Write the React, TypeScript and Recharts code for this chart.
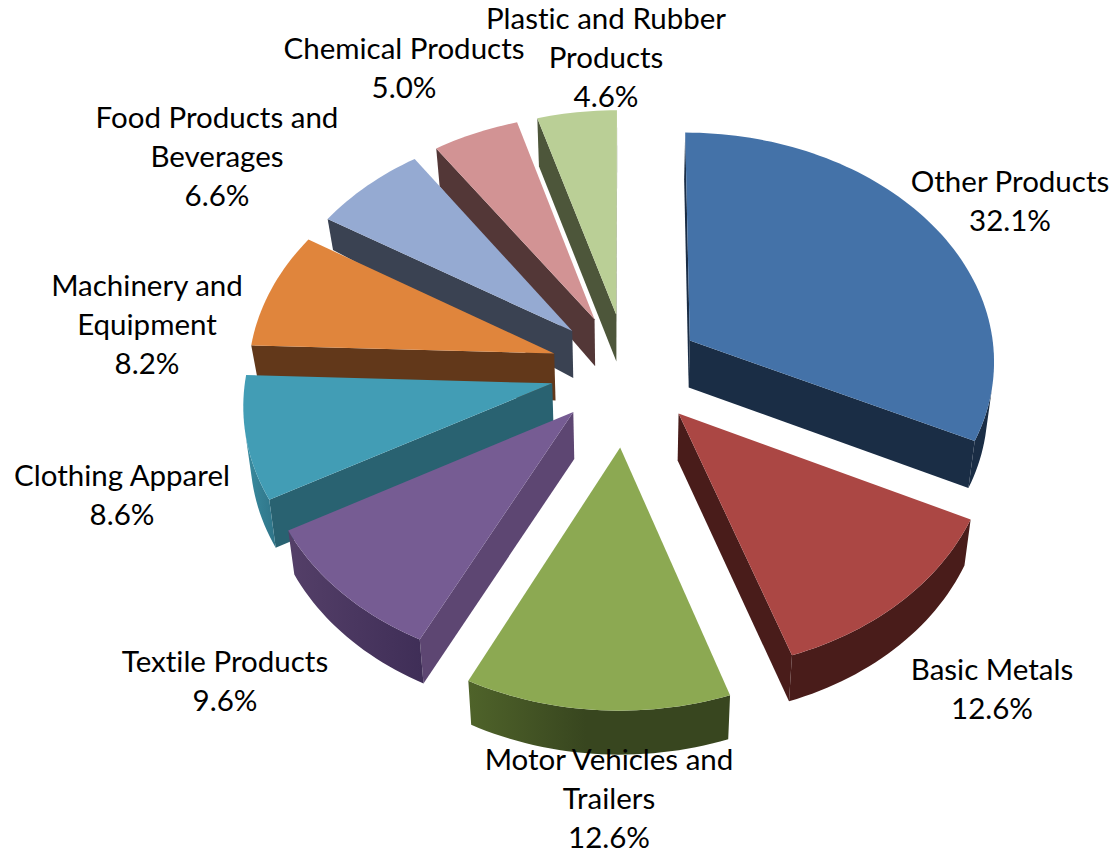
import React from "react";
import { PieChart, Pie } from "recharts";

// Slices run counter-clockwise from 12 o'clock so that later slices paint over earlier ones.
const categories = [
  "Plastic and Rubber Products",
  "Chemical Products",
  "Food Products and Beverages",
  "Machinery and Equipment",
  "Clothing Apparel",
  "Textile Products",
  "Motor Vehicles and Trailers",
  "Basic Metals",
  "Other Products",
];
const shares = [4.6, 5.0, 6.6, 8.2, 8.6, 9.6, 12.6, 12.6, 32.1];
const explosion = [0.25, 0.25, 0.25, 0.25, 0.25, 0.25, 0.33, 0.25, 0.245];
// Height of the extruded wall at each slice's rim, in pixels.
const rimDepth = [48, 38, 31, 36, 48, 44, 44, 46, 47];

const labelLines = [
  ["Plastic and Rubber", "Products"],
  ["Chemical Products"],
  ["Food Products and", "Beverages"],
  ["Machinery and", "Equipment"],
  ["Clothing Apparel"],
  ["Textile Products"],
  ["Motor Vehicles and", "Trailers"],
  ["Basic Metals"],
  ["Other Products"],
];
// Horizontal centre and vertical middle of each label's first line.
const labelAnchors = [
  [606, 19],
  [404, 49],
  [217, 118],
  [147, 286],
  [122, 476],
  [225, 662],
  [609, 760],
  [992, 670],
  [1010, 182],
];

const topColors = ["#BACF96", "#D29394", "#95AAD2", "#E0853C", "#429DB5", "#765C93", "#8CA952", "#AB4744", "#4472A8"];
const radialWallColors = ["#4D563A", "#533737", "#3A4252", "#62381A", "#296271", "#5D4672", "#384620", "#491C1A", "#1A2D45"];
const rimWallFrom = ["#4D563A", "#533737", "#3A4252", "#62381A", "#3A8CA0", "#543F68", "#4F632A", "#491C1A", "#1A2D45"];
const rimWallTo = ["#4D563A", "#533737", "#3A4252", "#62381A", "#2F7488", "#3F2E57", "#38461F", "#491C1A", "#1A2D45"];
// Fraction of the rim wall's width at which the shading reaches its darkest tone.
const rimWallTurn = [1, 1, 1, 1, 1, 1, 0.45, 1, 1];

const rows = categories.map((name, i) => ({ name, value: shares[i] }));

const LINE_HEIGHT = 39;
const TILT = 229 / 306;
const PERSPECTIVE = 0.08;
const APEX_DEPTH = 47;

type Pt = { x: number; y: number };

// Perspective projection of a point on the pie's plane (units of radius) to the screen.
function projector(cx: number, cy: number, radius: number) {
  const top = (u: number, v: number): Pt => {
    const s = 1 / (1 - PERSPECTIVE * v);
    return { x: cx + radius * u * s, y: cy + radius * TILT * v * s };
  };
  const bottom = (u: number, v: number, depth: number): Pt => {
    const p = top(u, v);
    return { x: cx + (p.x - cx) * 0.982, y: p.y + depth };
  };
  return { top, bottom };
}

const toPath = (pts: Pt[]) =>
  pts.map((p, i) => `${i ? "L" : "M"}${p.x.toFixed(2)},${p.y.toFixed(2)}`).join("") + "Z";

const shoelace = (pts: Pt[]) =>
  pts.reduce((sum, p, i) => {
    const q = pts[(i + 1) % pts.length];
    return sum + p.x * q.y - q.x * p.y;
  }, 0);

function Wedge3D(props: any) {
  const { cx, cy, outerRadius, startAngle, endAngle, midAngle, index } = props;
  const { top, bottom } = projector(cx, cy, outerRadius);
  const rad = Math.PI / 180;
  const e = explosion[index];
  const ou = e * Math.cos(midAngle * rad);
  const ov = -e * Math.sin(midAngle * rad);

  const plane: [number, number][] = [];
  const steps = Math.max(4, Math.ceil(Math.abs(endAngle - startAngle) / 1.5));
  for (let i = 0; i <= steps; i++) {
    const a = (startAngle + ((endAngle - startAngle) * i) / steps) * rad;
    plane.push([ou + Math.cos(a), ov - Math.sin(a)]);
  }
  const apexTop = top(ou, ov);
  const apexBottom = bottom(ou, ov, APEX_DEPTH);
  const rimTop = plane.map(([u, v]) => top(u, v));
  const rimBottom = plane.map(([u, v]) => bottom(u, v, rimDepth[index]));

  const firstWall = [apexTop, rimTop[0], rimBottom[0], apexBottom];
  const lastWall = [rimTop[steps], apexTop, apexBottom, rimBottom[steps]];

  const rimRuns: Pt[][] = [];
  let run: number[] = [];
  const closeRun = () => {
    rimRuns.push([...run.map((j) => rimTop[j]), ...run.slice().reverse().map((j) => rimBottom[j])]);
    run = [];
  };
  for (let i = 0; i < steps; i++) {
    const facing = shoelace([rimTop[i], rimTop[i + 1], rimBottom[i + 1], rimBottom[i]]) > 0;
    if (facing) {
      if (!run.length) run.push(i);
      run.push(i + 1);
    } else if (run.length) {
      closeRun();
    }
  }
  if (run.length) closeRun();

  const gradientId = `rim-wall-${index}`;
  return (
    <g>
      <defs>
        <linearGradient id={gradientId} x1="0" y1="0" x2="1" y2="0">
          <stop offset="0" stopColor={rimWallFrom[index]} />
          <stop offset={rimWallTurn[index]} stopColor={rimWallTo[index]} />
        </linearGradient>
      </defs>
      {[firstWall, lastWall]
        .filter((w) => shoelace(w) > 0)
        .map((w, i) => (
          <path key={i} d={toPath(w)} fill={radialWallColors[index]} />
        ))}
      {rimRuns.map((r, i) => (
        <path key={`r${i}`} d={toPath(r)} fill={`url(#${gradientId})`} />
      ))}
      <path d={toPath([apexTop, ...rimTop])} fill={topColors[index]} />
    </g>
  );
}

function SliceLabel(props: any) {
  const { index } = props;
  const [x, y] = labelAnchors[index];
  const lines = [...labelLines[index], `${shares[index].toFixed(1)}%`];
  return (
    <text
      x={x}
      y={y + 10}
      textAnchor="middle"
      fontFamily="Lato, sans-serif"
      fontSize={29.5}
      fill="#000"
      style={{ fontVariantLigatures: "none" }}
    >
      {lines.map((line, i) => (
        <tspan key={i} x={x} dy={i ? LINE_HEIGHT : 0}>
          {line}
        </tspan>
      ))}
    </text>
  );
}

export default function App() {
  return (
    <div style={{ position: "absolute", left: 0, top: 0, width: 1113, height: 852, background: "#fff" }}>
      <PieChart width={1113} height={852} margin={{ top: 0, right: 0, bottom: 0, left: 0 }}>
        <Pie
          data={rows}
          dataKey="value"
          nameKey="name"
          cx={627}
          cy={370}
          innerRadius={0}
          outerRadius={306}
          startAngle={90}
          endAngle={450}
          stroke="none"
          shape={Wedge3D}
          label={SliceLabel}
          labelLine={false}
          isAnimationActive={false}
        />
      </PieChart>
    </div>
  );
}
